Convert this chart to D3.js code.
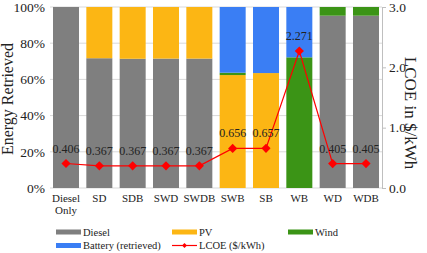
<!DOCTYPE html>
<html>
<head>
<meta charset="utf-8">
<script src="https://cdn.jsdelivr.net/npm/d3@7"></script>
<style>
  body { margin: 0; background: #fff; }
</style>
</head>
<body>
<svg id="chart" width="427" height="253"></svg>
<script>
// categories and series (percent of energy retrieved)
const categories = ["Diesel Only", "SD", "SDB", "SWD", "SWDB", "SWB", "SB", "WB", "WD", "WDB"];
const diesel  = [100, 71.7, 71.4, 71.5, 71.5, 0, 0, 0, 95.2, 95.2];
const pv      = [0, 28.3, 28.6, 28.5, 28.5, 62.4, 63.5, 0, 0, 0];
const wind    = [0, 0, 0, 0, 0, 1.3, 0, 72.2, 4.8, 4.8];
const battery = [0, 0, 0, 0, 0, 36.3, 36.5, 27.8, 0, 0];
const lcoe    = [0.406, 0.367, 0.367, 0.367, 0.367, 0.656, 0.657, 2.271, 0.405, 0.405];
const leftTicks  = [0, 20, 40, 60, 80, 100];
const rightTicks = [0, 1, 2, 3];

const colors = {Diesel: "#7f7f7f", PV: "#fcb614", Wind: "#3b9416", Battery: "#3a7ef4"};
const FONT = "'Liberation Serif', 'Times New Roman', 'DejaVu Serif', serif";

const margin = {top: 7, right: 45, bottom: 65, left: 50},
    width = 427 - margin.left - margin.right,
    height = 253 - margin.top - margin.bottom;

const root = d3.select("#chart").attr("font-family", FONT);
const svg = root
    .append("g")
    .attr("transform", "translate(" + margin.left + "," + margin.top + ")");

const x = d3.scaleBand().domain(categories).range([0, width]).paddingInner(0.22).paddingOuter(0.09);
const yL = d3.scaleLinear().domain([0, 100]).range([height, 0]);
const yR = d3.scaleLinear().domain([0, 3]).range([height, 0]);

// grid
svg.append("g")
    .selectAll("line")
    .data(leftTicks)
    .enter().append("line")
    .attr("x1", 0).attr("x2", width)
    .attr("y1", d => yL(d)).attr("y2", d => yL(d))
    .attr("stroke", "#d9d9d9").attr("stroke-width", 1);

// stacked bars
const rows = categories.map((c, i) => ({cat: c, Diesel: diesel[i], PV: pv[i], Wind: wind[i], Battery: battery[i]}));
const stack = d3.stack().keys(["Diesel", "PV", "Wind", "Battery"])(rows);

svg.append("g")
    .selectAll("g")
    .data(stack)
    .enter().append("g")
    .attr("fill", d => colors[d.key])
    .selectAll("rect")
    .data(d => d)
    .enter().append("rect")
    .attr("x", d => x(d.data.cat))
    .attr("width", x.bandwidth())
    .attr("y", d => yL(d[1]))
    .attr("height", d => yL(d[0]) - yL(d[1]));

// left axis
const leftAxis = svg.append("g")
    .call(d3.axisLeft(yL).tickValues(leftTicks).tickSize(0).tickPadding(5).tickFormat(d => d + "%"));
leftAxis.select(".domain").remove();

// right axis
const rightAxis = svg.append("g")
    .attr("transform", "translate(" + width + ",0)")
    .call(d3.axisRight(yR).tickValues(rightTicks).tickSize(4).tickPadding(3).tickFormat(d3.format(".1f")));
rightAxis.select(".domain").attr("stroke", "#bfbfbf");
rightAxis.selectAll(".tick line").attr("stroke", "#bfbfbf");

svg.selectAll(".tick text").style("font-size", "13.5px");
leftAxis.attr("font-family", FONT);
rightAxis.attr("font-family", FONT);

// x labels
const xl = svg.append("g").selectAll("text")
    .data(categories)
    .enter().append("text")
    .attr("x", d => x(d) + x.bandwidth() / 2)
    .attr("y", height + 14)
    .attr("text-anchor", "middle")
    .style("font-size", "11px");
xl.each(function (d) {
    const words = d.split(" ");
    const t = d3.select(this);
    words.forEach((w, i) => {
        t.append("tspan")
            .attr("x", x(d) + x.bandwidth() / 2)
            .attr("dy", i === 0 ? 0 : 12)
            .text(w);
    });
});

// LCOE line
const cx = d => x(d) + x.bandwidth() / 2;
const line = d3.line().x((d, i) => cx(categories[i])).y(d => yR(d));
svg.append("path")
    .datum(lcoe)
    .attr("d", line)
    .attr("fill", "none")
    .attr("stroke", "#ff0000")
    .attr("stroke-width", 1.2);

svg.append("g").selectAll("path")
    .data(lcoe)
    .enter().append("path")
    .attr("d", d3.symbol().type(d3.symbolSquare).size(42))
    .attr("transform", (d, i) => "translate(" + cx(categories[i]) + "," + yR(d) + ") rotate(45)")
    .attr("fill", "#ff0000");

svg.append("g").selectAll("text")
    .data(lcoe)
    .enter().append("text")
    .attr("x", (d, i) => cx(categories[i]))
    .attr("y", d => yR(d) - 11)
    .attr("text-anchor", "middle")
    .style("font-size", "12px")
    .text(d => d3.format(".3f")(d));

// axis titles
svg.append("text")
    .attr("transform", "translate(" + (-37) + "," + 92 + ") rotate(-90)")
    .attr("text-anchor", "middle")
    .style("font-size", "16px")
    .text("Energy Retrieved");

svg.append("text")
    .attr("transform", "translate(" + (width + 23) + "," + 106 + ") rotate(90)")
    .attr("text-anchor", "middle")
    .style("font-size", "17px")
    .text("LCOE in $/kWh");

// legend
const legendItems = [
    {name: "Diesel", type: "rect", color: colors.Diesel, col: 0, row: 0},
    {name: "PV", type: "rect", color: colors.PV, col: 1, row: 0},
    {name: "Wind", type: "rect", color: colors.Wind, col: 2, row: 0},
    {name: "Battery (retrieved)", type: "rect", color: colors.Battery, col: 0, row: 1},
    {name: "LCOE ($/kWh)", type: "line", color: "#ff0000", col: 1, row: 1}
];
const colX = [56, 172, 288];
const legend = root.append("g");
legendItems.forEach(it => {
    const g = legend.append("g")
        .attr("transform", "translate(" + colX[it.col] + "," + (232 + it.row * 13.5) + ")");
    if (it.type === "rect") {
        g.append("rect").attr("x", 0).attr("y", -2.5).attr("width", 25).attr("height", 5).attr("fill", it.color);
    } else {
        g.append("line").attr("x1", 0).attr("x2", 25).attr("y1", 0).attr("y2", 0)
            .attr("stroke", it.color).attr("stroke-width", 1.2);
        g.append("path").attr("d", d3.symbol().type(d3.symbolSquare).size(12))
            .attr("transform", "translate(12.5,0) rotate(45)").attr("fill", it.color);
    }
    g.append("text").attr("x", 27).attr("y", 3.5).style("font-size", "10.5px").text(it.name);
});

root.selectAll("text").style("font-family", FONT).attr("fill", "#222");
</script>
</body>
</html>
